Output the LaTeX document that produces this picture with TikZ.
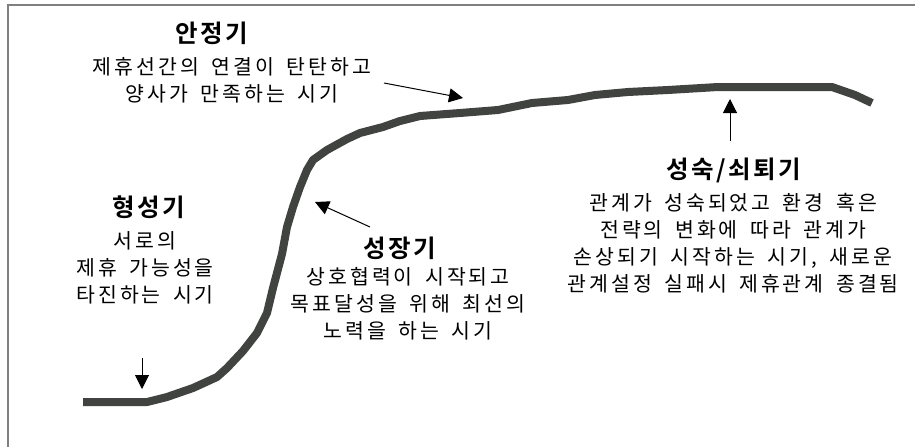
\documentclass[tikz,border=0pt]{standalone}
\usepackage{fontspec}
\setmainfont{Noto Sans CJK KR}
\newfontfamily\krbody[LetterSpace=15,WordSpace=1.6]{Noto Sans CJK KR}
\newfontfamily\krbold[LetterSpace=10]{Noto Sans CJK KR Bold}
\usetikzlibrary{arrows.meta}
\definecolor{curvecol}{HTML}{404340}
\definecolor{framecol}{HTML}{808080}
\tikzset{
  title/.style={font=\krbold\fontsize{24.5}{27}\selectfont, inner sep=0pt, anchor=center},
  body/.style={font=\krbody\fontsize{20.5}{27}\selectfont, align=center, inner sep=0pt, anchor=center},
  pointer/.style={line width=1pt, -{Triangle[length=14pt,width=14pt]}},
  lifecurve/.style={line width=8pt, color=curvecol, line join=round},
}
\begin{document}
\begin{tikzpicture}[x=1pt,y=-1pt]
\useasboundingbox (0,0) rectangle (915,447);
\fill[white] (0,0) rectangle (915,447);
\draw[framecol, line width=2pt] (915,5) -- (8,5) -- (8,447);

\draw[lifecurve] plot coordinates {(83,402) (147,402) (167,397) (193,388) (217,377) (227,368) (243,351) (257,333) (267,313) (273,288) (282,254) (287,227) (293,207) (300,187) (307,170) (313,160) (327,150) (347,139) (360,133) (383,127) (400,121) (420,116) (460,113) (498,110) (532,103) (568,100) (595,95) (628,92) (668,90) (718,87) (832,87) (855,95) (872,103)};

% titles
\node[title] (t1) at (212,33) {안정기};
\node[title] (t2) at (149,207) {형성기};
\node[title] (t3) at (400,248) {성장기};
\node[title] (t4) at (734,170) {성숙/쇠퇴기};

% bodies
\node[body] (b1) at (232,80) {제휴선간의 연결이 탄탄하고\\양사가 만족하는 시기};
\node[body] (b2) at (145,268) {서로의\\제휴 가능성을\\타진하는 시기};
\node[body] (b3) at (408,304) {상호협력이 시작되고\\목표달성을 위해 최선의\\노력을 하는 시기};
\node[body] (b4) at (733,243) {관계가 성숙되었고 환경 혹은\\전략의 변화에 따라 관계가\\손상되기 시작하는 시기, 새로운\\관계설정 실패시 제휴관계 종결됨};

% arrow endpoints
\coordinate (a1s) at (384,83);
\coordinate (a1e) at (463,98);
\coordinate (a2s) at (370,227);
\coordinate (a2e) at (315,202);
\coordinate (a3s) at (142,358);
\coordinate (a3e) at (142,389);
\coordinate (a4s) at (730,141);
\coordinate (a4e) at (730,99);

\draw[pointer] (a1s) -- (a1e);
\draw[pointer] (a2s) -- (a2e);
\draw[pointer] (a3s) -- (a3e);
\draw[pointer] (a4s) -- (a4e);
\end{tikzpicture}
\end{document}
